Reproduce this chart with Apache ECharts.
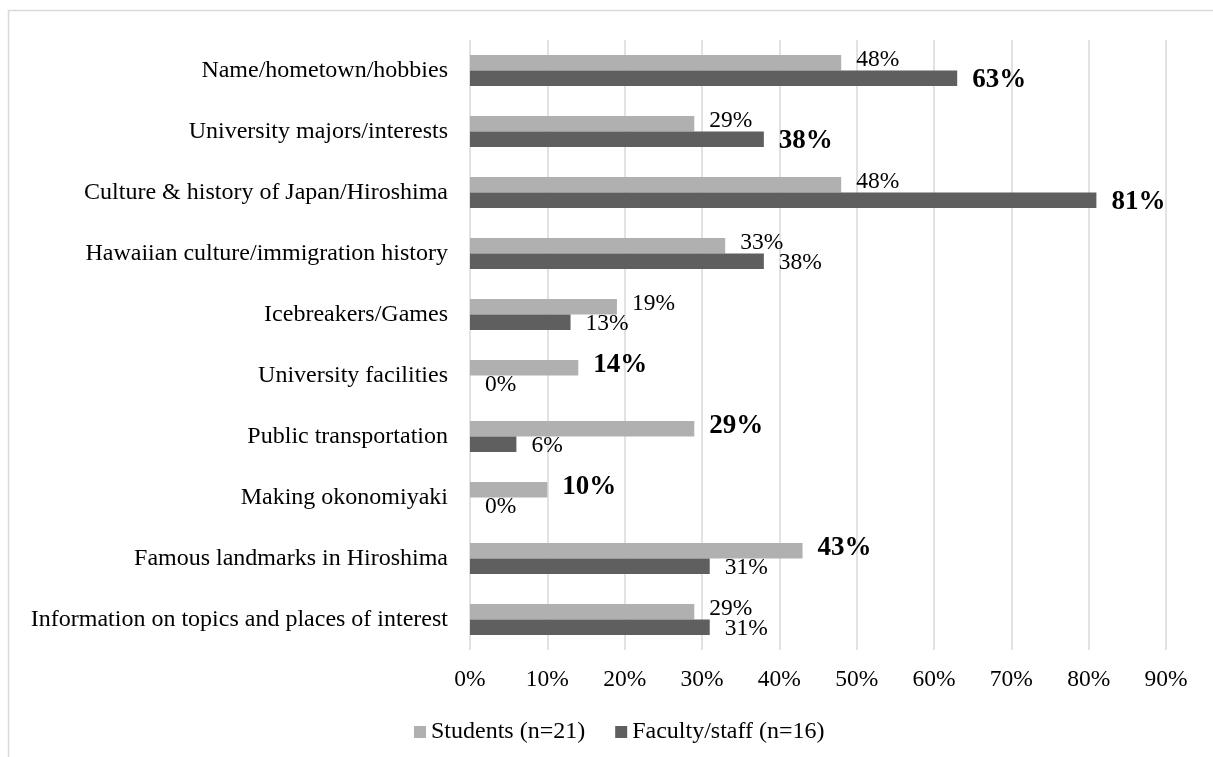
<!DOCTYPE html>
<html>
<head>
<meta charset="utf-8">
<title>Topics covered in exchange sessions</title>
<script src="https://cdn.jsdelivr.net/npm/echarts@6/dist/echarts.min.js"></script>
<style>
  html, body { margin: 0; padding: 0; background: #ffffff; }
  #chart { width: 1213px; height: 757px; }
</style>
</head>
<body>
<div id="chart"></div>
<script>
// Topics, top to bottom
const categories = [
  'Name/hometown/hobbies',
  'University majors/interests',
  'Culture & history of Japan/Hiroshima',
  'Hawaiian culture/immigration history',
  'Icebreakers/Games',
  'University facilities',
  'Public transportation',
  'Making okonomiyaki',
  'Famous landmarks in Hiroshima',
  'Information on topics and places of interest'
];

// Share of respondents (%)
const students = [48, 29, 48, 33, 19, 14, 29, 10, 43, 29];
const faculty  = [63, 38, 81, 38, 13, 0, 6, 0, 31, 31];

// Which group's label is emphasised for each topic
const emphasised = ['faculty', 'faculty', 'faculty', '', '', 'students', 'students', 'students', 'students', ''];

// Value axis ticks
const axisMax = 90;
const axisStep = 10;

const seriesNames = ['Students (n=21)', 'Faculty/staff (n=16)'];

const FONT = "'Liberation Serif', 'Times New Roman', serif";

function labelData(values, key) {
  return values.map((v, i) => ({ value: v, bold: emphasised[i] === key }));
}

function labelFormatter(p) {
  return p.data.bold ? '{b|' + p.value + '%}' : '{n|' + p.value + '%}';
}

const richStyles = {
  n: { fontFamily: FONT, fontSize: 23.5, color: '#000000' },
  b: { fontFamily: FONT, fontSize: 27, fontWeight: 'bold', color: '#000000' }
};

const chart = echarts.init(document.getElementById('chart'), null, { renderer: 'canvas' });

chart.setOption({
  backgroundColor: '#ffffff',
  animation: false,
  graphic: [{
    type: 'rect',
    shape: { x: 8.5, y: 10.5, width: 1400, height: 900 },
    style: { fill: 'none', stroke: '#d9d9d9', lineWidth: 1.5 },
    silent: true,
    z: -10
  }],
  grid: { left: 470, right: 47, top: 40, bottom: 107, containLabel: false },
  legend: {
    data: seriesNames,
    left: 409,
    top: 715,
    itemWidth: 12,
    itemHeight: 12,
    itemGap: 30,
    icon: 'rect',
    textStyle: { fontFamily: FONT, fontSize: 24, color: '#000000' }
  },
  xAxis: {
    type: 'value',
    min: 0,
    max: axisMax,
    interval: axisStep,
    axisLine: { show: false },
    axisTick: { show: false },
    axisLabel: {
      formatter: '{value}%',
      margin: 18,
      fontFamily: FONT,
      fontSize: 23.5,
      color: '#000000'
    },
    splitLine: { show: true, lineStyle: { color: '#d9d9d9', width: 1.5 } }
  },
  yAxis: {
    type: 'category',
    data: categories,
    inverse: true,
    axisLine: { show: false },
    axisTick: { show: false },
    axisLabel: {
      margin: 22,
      fontFamily: FONT,
      fontSize: 24,
      color: '#000000'
    }
  },
  series: [
    {
      name: seriesNames[0],
      type: 'bar',
      data: labelData(students, 'students'),
      barGap: '0%',
      barCategoryGap: '49%',
      itemStyle: { color: '#b0b0b0' },
      label: {
        show: true,
        position: 'right',
        distance: 15,
        offset: [0, -3],
        formatter: labelFormatter,
        rich: richStyles
      }
    },
    {
      name: seriesNames[1],
      type: 'bar',
      data: labelData(faculty, 'faculty'),
      barGap: '0%',
      barCategoryGap: '49%',
      itemStyle: { color: '#5f5f5f' },
      label: {
        show: true,
        position: 'right',
        distance: 15,
        offset: [0, 2],
        formatter: labelFormatter,
        rich: richStyles
      }
    }
  ]
});
</script>
</body>
</html>
